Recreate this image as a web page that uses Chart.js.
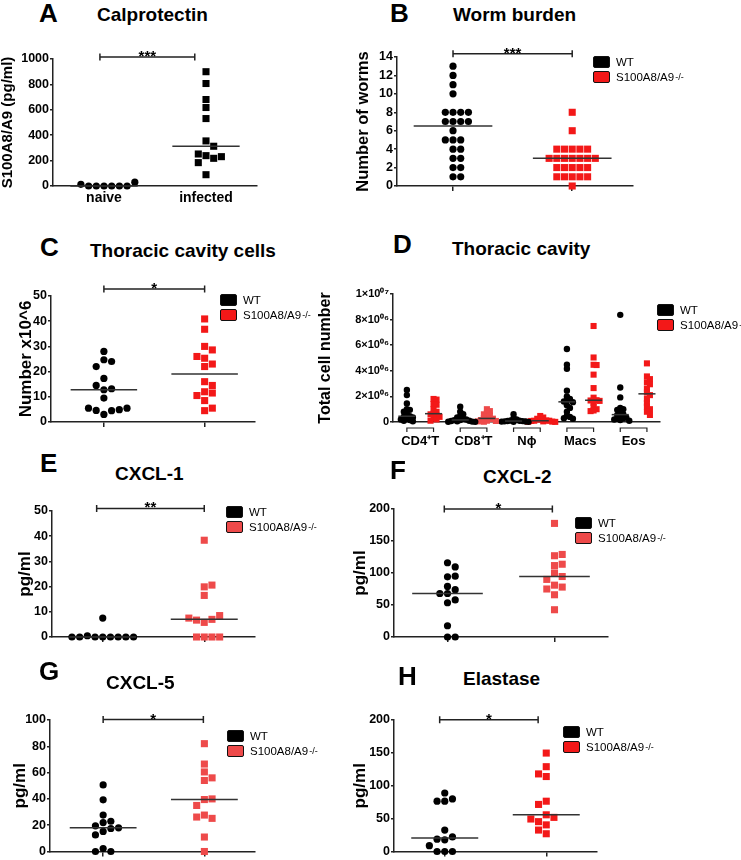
<!DOCTYPE html>
<html>
<head>
<meta charset="utf-8">
<script src="https://cdn.jsdelivr.net/npm/chart.js@4.4.0/dist/chart.umd.min.js"></script>
<style>
  body { margin: 0; background: #fff; }
  #fig { position: relative; width: 741px; height: 860px; overflow: hidden; background: #fff;
         font-family: "Liberation Sans", Arial, sans-serif; color: #000; }
  #fig canvas { position: absolute; }
  .lbl { position: absolute; font-weight: bold; line-height: 1; white-space: nowrap; }
  .letter { font-size: 26px; }
  .ttl { font-size: 19px; }
  .legend { position: absolute; font-size: 11.5px; white-space: nowrap; }
  .legend .row { display: flex; align-items: center; height: 15px; }
  .legend .box { width: 17px; height: 12px; border: 1.5px solid #111; border-radius: 2px;
                 box-sizing: border-box; margin-right: 6px; }
  .legend sup { font-size: 9px; vertical-align: 5px; line-height: 0; margin-left: 1px; }
</style>
</head>
<body>
<div id="fig"></div>
<script>
// ---------- data ----------
const calproCats = ["naive", "infected"];
const calproNaive = [0, 0, 0, 0, 0, 0, 13, 30];
const calproInfected = [900, 807, 681, 618, 531, 355, 313, 239, 218, 252, 231, 184, 89];

const wormWT = [13, 12, 11, 10, 8, 8, 8, 8, 7, 7, 7, 7, 6, 5, 5, 5, 4, 4, 3, 3, 2, 2, 1, 1];
const wormKO = [8, 6, 4, 4, 4, 4, 4, 3, 3, 3, 3, 3, 3, 3, 2, 2, 2, 2, 2, 1, 1, 1, 1, 1, 0];

const cellsWT = [28, 24.7, 24, 22, 17.3, 12.8, 13.2, 14.5, 9.5, 3.0, 4.5, 4.6, 4.9, 5.5, 5.5];
const cellsKO = [40.9, 36.8, 30, 28.6, 25.3, 26, 23, 22, 16, 14.5, 12, 11.5, 10.5, 8.5, 4.5, 5.5];

const cavityGroups = ["CD4\u207AT", "CD8\u207AT", "N\u03D5", "Macs", "Eos"];
const cavityTickLabels = ["0", "2\u00D710\u2070\u2076", "4\u00D710\u2070\u2076", "6\u00D710\u2070\u2076", "8\u00D710\u2070\u2076", "1\u00D710\u2070\u2077"];
const cd4WT = [2.5e6, 2.1e6, 1.45e6, 1.0e6, 0.95e6, 0.8e6, 0.6e6, 0.45e6, 0.42e6, 0.35e6, 0.3e6, 0.2e6, 0.15e6, 0.1e6, 0.05e6];
const cd4KO = [1.8e6, 1.75e6, 1.4e6, 1.35e6, 1.0e6, 0.8e6, 0.65e6, 0.6e6, 0.5e6, 0.4e6, 0.3e6, 0.2e6, 0.1e6];
const cd8WT = [1.2e6, 0.8e6, 0.6e6, 0.45e6, 0.35e6, 0.25e6, 0.2e6, 0.16e6, 0.15e6, 0.1e6, 0.08e6, 0.05e6, 0.03e6, 0.02e6, 0.01e6];
const cd8KO = [1.0e6, 0.85e6, 0.7e6, 0.6e6, 0.5e6, 0.4e6, 0.3e6, 0.26e6, 0.22e6, 0.15e6, 0.1e6, 0.08e6, 0.05e6, 0.02e6];
const neutWT = [0.6e6, 0.3e6, 0.2e6, 0.12e6, 0.1e6, 0.08e6, 0.07e6, 0.05e6, 0.04e6, 0.03e6, 0.02e6, 0.01e6];
const neutKO = [0.47e6, 0.35e6, 0.25e6, 0.18e6, 0.12e6, 0.1e6, 0.1e6, 0.08e6, 0.05e6, 0.03e6, 0.02e6, 0.01e6];
const macsWT = [5.7e6, 4.47e6, 4.16e6, 2.45e6, 2.0e6, 1.8e6, 1.7e6, 1.6e6, 1.55e6, 1.3e6, 1.1e6, 0.8e6, 0.5e6, 0.4e6, 0.3e6, 0.25e6];
const macsKO = [7.5e6, 5.04e6, 4.47e6, 4.45e6, 3.7e6, 2.65e6, 1.9e6, 1.7e6, 1.68e6, 1.65e6, 1.5e6, 1.2e6, 1.0e6, 0.9e6, 0.85e6];
const eosWT = [8.37e6, 2.7e6, 1.92e6, 1.1e6, 1.0e6, 0.95e6, 0.8e6, 0.6e6, 0.55e6, 0.45e6, 0.35e6, 0.3e6, 0.25e6, 0.2e6, 0.15e6, 0.1e6];
const eosKO = [4.58e6, 3.56e6, 3.35e6, 3.1e6, 2.95e6, 2.6e6, 2.3e6, 2.1e6, 1.8e6, 1.5e6, 1.2e6, 1.0e6, 0.8e6, 0.55e6];

const cxcl1WT = [7.5, 0, 0, 0, 0, 0.5, 0, 0, 0, 0];
const cxcl1KO = [38.4, 19.9, 20.6, 16.5, 5.8, 7, 6.7, 8.5, 7.5, 0, 0, 0, 0];

const cxcl2WT = [116, 109.5, 94, 95, 68, 74, 68, 79, 58, 53.5, 17.6, 0, 0];
const cxcl2KO = [177.5, 127, 129, 111.6, 113.7, 100, 94.5, 90, 81, 78, 75, 66, 42.6];

const cxcl5WT = [50.6, 39.3, 27.7, 23, 22, 19.5, 18, 17.5, 15.3, 12.6, 2.2, 0, 0];
const cxcl5KO = [82, 66.5, 60.5, 56, 54, 39.5, 40, 35, 27.7, 25.2, 26.2, 11, 0];

const elastWT = [89, 76.5, 76.5, 80, 32.6, 17.8, 18.8, 22.2, 0, 0, 0, 8.9];
const elastKO = [149.7, 129, 114, 118, 76.5, 71.6, 55.8, 45.4, 51.9, 49.4, 40.5, 32.6, 27];

// ---------- helpers ----------
Chart.defaults.font.family = '"Liberation Sans", Arial, sans-serif';
Chart.defaults.color = "#000";
Chart.defaults.animation = false;

const BLACK = "#000000", RED = "#f31818", RED_SOFT = "#ee4a4a";
const fig = document.getElementById("fig");

function median(a) {
    const s = [...a].sort((p, q) => p - q);
    const n = s.length;
    return n % 2 ? s[(n - 1) / 2] : (s[n / 2 - 1] + s[n / 2]) / 2;
}

// column dot plot: push a dot sideways until it no longer overlaps a dot in that column
function swarm(chart, values, center, stepPx, minDy, lead) {
    const xs = chart.scales.x, ys = chart.scales.y;
    const unit = stepPx / Math.abs(xs.getPixelForValue(1) - xs.getPixelForValue(0));
    const placed = [];
    return values.map(v => {
        const py = ys.getPixelForValue(v);
        for (let k = 0; ; k++) {
            const off = k === 0 ? 0 : (k % 2 ? lead * (k + 1) / 2 : -lead * k / 2);
            if (!placed.some(p => p.off === off && Math.abs(p.py - py) < minDy)) {
                placed.push({ off, py });
                return { x: center + off * unit, y: v };
            }
        }
    });
}

const extras = {
    id: "extras",
    afterDraw(chart, args, o) {
        const { ctx, scales: { x, y } } = chart;
        ctx.save();
        ctx.strokeStyle = "#222";
        ctx.fillStyle = "#000";
        ctx.lineWidth = 1.5;
        if (o.sig) {
            const x1 = x.getPixelForValue(o.sig.x1), x2 = x.getPixelForValue(o.sig.x2);
            const yy = y.getPixelForValue(o.sig.y);
            ctx.beginPath();
            ctx.moveTo(x1, yy); ctx.lineTo(x2, yy);
            ctx.moveTo(x1, yy - 3.5); ctx.lineTo(x1, yy + 3.5);
            ctx.moveTo(x2, yy - 3.5); ctx.lineTo(x2, yy + 3.5);
            ctx.stroke();
            ctx.font = 'bold 15px "Liberation Sans", Arial, sans-serif';
            ctx.textAlign = "center";
            ctx.textBaseline = "alphabetic";
            ctx.fillText(o.sig.text, (x1 + x2) / 2, yy + 4);
        }
        if (o.brackets) {
            const yb = y.getPixelForValue(0);
            ctx.lineWidth = 1.2;
            o.brackets.forEach(([a, b]) => {
                const x1 = x.getPixelForValue(a), x2 = x.getPixelForValue(b);
                ctx.beginPath();
                ctx.moveTo(x1, yb + 10); ctx.lineTo(x1, yb + 6);
                ctx.lineTo(x2, yb + 6); ctx.lineTo(x2, yb + 10);
                ctx.stroke();
            });
        }
        ctx.restore();
    }
};

function addText(cls, text, left, cy, size) {
    const d = document.createElement("div");
    d.className = "lbl " + cls;
    d.textContent = text;
    d.style.left = left + "px";
    d.style.top = (cy - size / 2) + "px";
    fig.appendChild(d);
}

function addLegend(left, top, red) {
    const d = document.createElement("div");
    d.className = "legend";
    d.style.left = left + "px";
    d.style.top = top + "px";
    d.innerHTML =
        '<div class="row"><span class="box" style="background:' + BLACK + '"></span>WT</div>' +
        '<div class="row"><span class="box" style="background:' + red + '"></span>S100A8/A9<sup>-/-</sup></div>';
    fig.appendChild(d);
}

function makePanel(p) {
    const padT = 18, padR = p.padR || 12, xh = p.xh || 20;
    const canvas = document.createElement("canvas");
    canvas.width = p.yw + (p.plot.r - p.plot.l) + padR;
    canvas.height = padT + (p.plot.b - p.plot.t) + xh;
    canvas.style.left = (p.plot.l - p.yw) + "px";
    canvas.style.top = (p.plot.t - padT) + "px";
    fig.appendChild(canvas);

    const mw = p.mw || 0.33;
    const datasets = [];
    p.series.forEach(s => {
        datasets.push({
            data: s.values.map(v => ({ x: s.x, y: v })),
            pointStyle: s.style,
            pointRadius: s.style === "rect" ? (p.rectR || 5) : (p.dotR || 3.6),
            backgroundColor: s.color,
            borderWidth: 0,
            clip: false,
            order: 1
        });
        const m = median(s.values);
        datasets.push({
            data: [{ x: s.x - mw, y: m }, { x: s.x + mw, y: m }],
            showLine: true,
            pointRadius: 0,
            borderColor: "#333",
            borderWidth: 1.5,
            clip: false,
            order: 0
        });
    });

    const chart = new Chart(canvas, {
        type: "scatter",
        data: { datasets },
        plugins: [extras],
        options: {
            responsive: false,
            animation: false,
            events: [],
            layout: { padding: { top: padT, right: padR, left: 0, bottom: 0 }, autoPadding: false },
            plugins: {
                legend: { display: false },
                tooltip: { enabled: false },
                extras: { sig: p.sig, brackets: p.brackets }
            },
            scales: {
                x: {
                    type: "linear",
                    min: p.xMin ?? 0.5,
                    max: p.xMax ?? 2.5,
                    afterBuildTicks: s => { s.ticks = p.xTicks.map(v => ({ value: v })); },
                    afterFit: s => { s.height = xh; },
                    ticks: {
                        autoSkip: false,
                        maxRotation: 0,
                        padding: p.xPad ?? 4,
                        font: { size: p.xFont || 14, weight: "bold" },
                        color: "#000",
                        callback: (v, i) => (p.xLabels ? p.xLabels[i] : "")
                    },
                    grid: {
                        display: !!p.xMarks,
                        drawOnChartArea: false,
                        drawTicks: !!p.xMarks,
                        tickLength: 5,
                        color: "#222",
                        lineWidth: 1.5
                    },
                    border: { display: true, color: "#222", width: 1.5 }
                },
                y: {
                    min: p.yMin,
                    max: p.yMax,
                    afterFit: s => { s.width = p.yw; },
                    ticks: {
                        stepSize: p.yStep,
                        padding: 1,
                        font: { size: p.yFont || 12.5, weight: "bold" },
                        color: "#000",
                        callback: p.yTickText || (v => String(v))
                    },
                    grid: { drawOnChartArea: false, tickLength: 3, color: "#222", lineWidth: 1.5 },
                    border: { display: true, color: "#222", width: 1.5 },
                    title: {
                        display: true,
                        text: p.yTitle,
                        color: "#000",
                        font: { size: p.yTitleSize, weight: "bold", lineHeight: 1 },
                        padding: { top: p.yTitleX - (p.plot.l - p.yw) - p.yTitleSize / 2, bottom: 0 }
                    }
                }
            }
        }
    });

    // spread the dots with the chart's own scales, then redraw
    p.series.forEach((s, i) => {
        chart.data.datasets[i * 2].data = swarm(chart, s.values, s.x, p.step || 7.7, p.minDy || 7, p.lead || 1);
    });
    chart.update("none");
    return chart;
}

// ---------- panels ----------
makePanel({
    plot: { l: 53, t: 59, r: 257, b: 186 }, yw: 53, xh: 30, padR: 15,
    yMin: 0, yMax: 1000, yStep: 200,
    yTitle: "S100A8/A9 (pg/ml)", yTitleSize: 15, yTitleX: 8,
    xTicks: [1, 2], xLabels: calproCats, xFont: 14, xPad: 4, xMarks: false,
    series: [
        { x: 1, values: calproNaive, style: "circle", color: BLACK },
        { x: 2, values: calproInfected, style: "rect", color: BLACK }
    ],
    sig: { x1: 0.96, x2: 1.89, y: 1015, text: "***" }
});

makePanel({
    plot: { l: 397, t: 57, r: 633, b: 186 }, yw: 45, padR: 10,
    xMin: 0.53, xMax: 2.51,
    yMin: 0, yMax: 14, yStep: 2,
    yTitle: "Number of worms", yTitleSize: 16.5, yTitleX: 363,
    xTicks: [1, 2], xMarks: true,
    series: [
        { x: 1, values: wormWT, style: "circle", color: BLACK },
        { x: 2, values: wormKO, style: "rect", color: RED }
    ],
    sig: { x1: 1, x2: 2, y: 14.35, text: "***" }
});

makePanel({
    plot: { l: 51, t: 296, r: 255, b: 422 }, yw: 51, padR: 15,
    xMin: 0.475,
    yMin: 0, yMax: 50, yStep: 10,
    yTitle: "Number x10^6", yTitleSize: 17, yTitleX: 26,
    xTicks: [1, 2], xMarks: true,
    series: [
        { x: 1, values: cellsWT, style: "circle", color: BLACK },
        { x: 2, values: cellsKO, style: "rect", color: RED }
    ],
    sig: { x1: 1, x2: 2, y: 52.8, text: "*" }
});

makePanel({
    plot: { l: 393, t: 294, r: 660, b: 422 }, yw: 78, padR: 10, xh: 34,
    xMin: 0.48, xMax: 10.49,
    yMin: 0, yMax: 1e7, yStep: 2e6, yFont: 11,
    yTickText: v => cavityTickLabels[Math.round(v / 2e6)],
    yTitle: "Total cell number", yTitleSize: 16, yTitleX: 326,
    xTicks: [1.5, 3.5, 5.5, 7.5, 9.5], xLabels: cavityGroups, xFont: 13, xPad: 12, xMarks: false,
    step: 3, minDy: 3.5, dotR: 3.2, rectR: 4.3, mw: 0.32,
    series: [
        { x: 1, values: cd4WT, style: "circle", color: BLACK },
        { x: 2, values: cd4KO, style: "rect", color: RED },
        { x: 3, values: cd8WT, style: "circle", color: BLACK },
        { x: 4, values: cd8KO, style: "rect", color: RED_SOFT },
        { x: 5, values: neutWT, style: "circle", color: BLACK },
        { x: 6, values: neutKO, style: "rect", color: RED },
        { x: 7, values: macsWT, style: "circle", color: BLACK },
        { x: 8, values: macsKO, style: "rect", color: RED },
        { x: 9, values: eosWT, style: "circle", color: BLACK },
        { x: 10, values: eosKO, style: "rect", color: RED }
    ],
    brackets: [[1, 2], [3, 4], [5, 6], [7, 8], [9, 10]]
});

makePanel({
    plot: { l: 52, t: 511, r: 255, b: 637 }, yw: 52, padR: 15,
    yMin: 0, yMax: 50, yStep: 10,
    yTitle: "pg/ml", yTitleSize: 17, yTitleX: 25,
    xTicks: [1, 2], xMarks: true,
    series: [
        { x: 1, values: cxcl1WT, style: "circle", color: BLACK },
        { x: 2, values: cxcl1KO, style: "rect", color: RED_SOFT }
    ],
    sig: { x1: 0.94, x2: 2, y: 51, text: "**" }
});

makePanel({
    plot: { l: 394, t: 509, r: 608, b: 637 }, yw: 44, padR: 12,
    yMin: 0, yMax: 200, yStep: 50,
    yTitle: "pg/ml", yTitleSize: 17, yTitleX: 360,
    xTicks: [1, 2], xMarks: true,
    series: [
        { x: 1, values: cxcl2WT, style: "circle", color: BLACK },
        { x: 2, values: cxcl2KO, style: "rect", color: RED_SOFT }
    ],
    sig: { x1: 0.97, x2: 1.98, y: 200, text: "*" }
});

makePanel({
    plot: { l: 50, t: 720, r: 255, b: 855 }, yw: 50, padR: 15, xh: 5,
    xMin: 0.475,
    yMin: 0, yMax: 100, yStep: 20,
    yTitle: "pg/ml", yTitleSize: 17, yTitleX: 20,
    xTicks: [1, 2], xMarks: true,
    series: [
        { x: 1, values: cxcl5WT, style: "circle", color: BLACK },
        { x: 2, values: cxcl5KO, style: "rect", color: RED_SOFT }
    ],
    sig: { x1: 1, x2: 1.99, y: 100.3, text: "*" }
});

makePanel({
    plot: { l: 394, t: 720, r: 597, b: 855 }, yw: 44, padR: 12, xh: 5,
    yMin: 0, yMax: 200, yStep: 50,
    yTitle: "pg/ml", yTitleSize: 17, yTitleX: 360,
    xTicks: [1, 2], xMarks: true, lead: -1,
    series: [
        { x: 1, values: elastWT, style: "circle", color: BLACK },
        { x: 2, values: elastKO, style: "rect", color: RED }
    ],
    sig: { x1: 0.95, x2: 1.92, y: 200.5, text: "*" }
});

// ---------- panel letters, titles, legends ----------
[["A", 39, 12.5], ["B", 390, 12.5], ["C", 40, 247], ["D", 393, 244],
 ["E", 40, 462.5], ["F", 390, 470], ["G", 39, 671], ["H", 398, 676]]
    .forEach(([t, x, y]) => addText("letter", t, x, y, 26));

[["Calprotectin", 97, 14], ["Worm burden", 453, 14.5], ["Thoracic cavity cells", 90, 250],
 ["Thoracic cavity", 452, 248], ["CXCL-1", 115, 473.5], ["CXCL-2", 483, 476],
 ["CXCL-5", 106, 682.5], ["Elastase", 463, 678.5]]
    .forEach(([t, x, y]) => addText("ttl", t, x, y, 19));

addLegend(593, 54, RED);
addLegend(220, 292, RED);
addLegend(657, 302, RED);
addLegend(226, 504, RED_SOFT);
addLegend(575, 515, RED_SOFT);
addLegend(227, 728, RED_SOFT);
addLegend(563, 724, RED);
</script>
</body>
</html>
